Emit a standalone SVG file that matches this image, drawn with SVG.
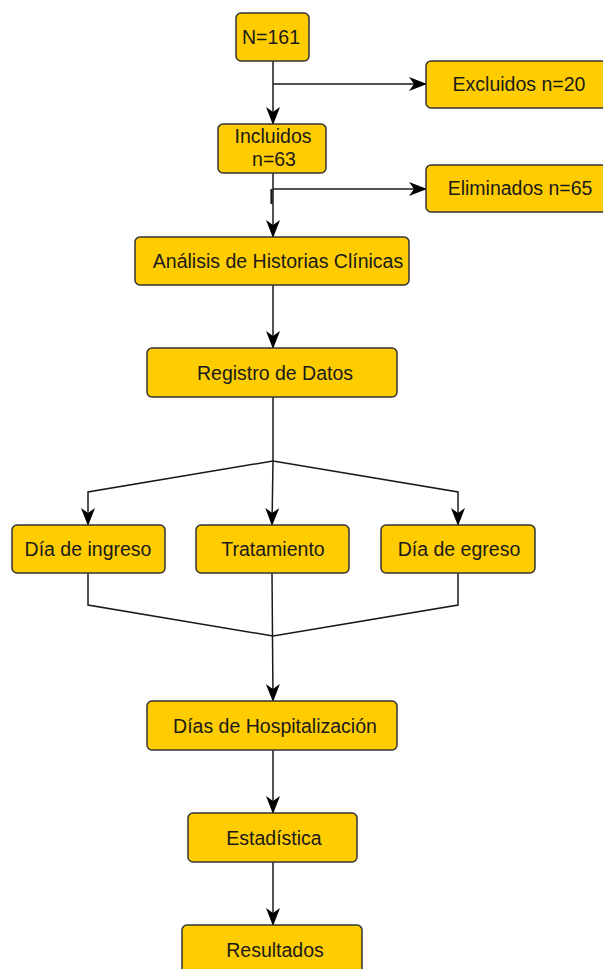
<svg xmlns="http://www.w3.org/2000/svg" width="603" height="969" viewBox="0 0 603 969">
<style>
.box{fill:#ffcc00;stroke:#333333;stroke-width:1.5}
.t{font-family:"Liberation Sans",Arial,sans-serif;font-size:19.5px;fill:#1a1a1a;text-anchor:middle}
.c{fill:none;stroke:#1a1a1a;stroke-width:1.5}
</style>
<defs>
<marker id="arr" viewBox="0 0 18 14" refX="17" refY="7" markerWidth="18" markerHeight="14" markerUnits="userSpaceOnUse" orient="auto">
<path d="M0,0 L18,7 L0,14 L5,7 Z" fill="#000"/>
</marker>
</defs>
<rect width="603" height="969" fill="#ffffff"/>
<g id="connectors">
<path class="c" d="M273,61 V124" marker-end="url(#arr)"/>
<path class="c" d="M273,84 H426" marker-end="url(#arr)"/>
<path class="c" d="M273,173 V237" marker-end="url(#arr)"/>
<path class="c" d="M273,189 H426" marker-end="url(#arr)"/>
<path d="M271.5,189 V204" stroke="#1a1a1a" stroke-width="2.2" fill="none"/>
<path class="c" d="M273,285 V348" marker-end="url(#arr)"/>
<path class="c" d="M273,397 V461"/>
<path class="c" d="M273,461 L88,492 V525" marker-end="url(#arr)"/>
<path class="c" d="M273,461 L458,492 V525" marker-end="url(#arr)"/>
<path class="c" d="M273,461 L272,525" marker-end="url(#arr)"/>
<path class="c" d="M88,573 V605 L273,636"/>
<path class="c" d="M458,573 V605 L273,636"/>
<path class="c" d="M272,573 L273,701" marker-end="url(#arr)"/>
<path class="c" d="M273,750 V813" marker-end="url(#arr)"/>
<path class="c" d="M273,862 V925" marker-end="url(#arr)"/>
</g>
<g id="n161">
<rect class="box" x="236" y="13" width="73" height="48" rx="5"/>
<text class="t" x="271" y="44">N=161</text>
</g>
<g id="excluidos">
<rect class="box" x="426" y="61" width="185" height="47" rx="5"/>
<text class="t" x="519" y="91">Excluidos n=20</text>
</g>
<g id="incluidos">
<rect class="box" x="218" y="124" width="108" height="49" rx="5"/>
<text class="t" x="273" y="143">Incluidos</text>
<text class="t" x="274" y="166">n=63</text>
</g>
<g id="eliminados">
<rect class="box" x="426" y="165" width="185" height="47" rx="5"/>
<text class="t" x="520" y="195">Eliminados n=65</text>
</g>
<g id="analisis">
<rect class="box" x="135" y="237" width="274" height="48" rx="5"/>
<text class="t" x="278" y="268">Análisis de Historias Clínicas</text>
</g>
<g id="registro">
<rect class="box" x="147" y="348" width="250" height="49" rx="5"/>
<text class="t" x="275" y="380">Registro de Datos</text>
</g>
<g id="ingreso">
<rect class="box" x="12" y="525" width="153" height="48" rx="5"/>
<text class="t" x="88" y="556">Día de ingreso</text>
</g>
<g id="tratamiento">
<rect class="box" x="196" y="525" width="153" height="48" rx="5"/>
<text class="t" x="273" y="556">Tratamiento</text>
</g>
<g id="egreso">
<rect class="box" x="381" y="525" width="154" height="48" rx="5"/>
<text class="t" x="459" y="556">Día de egreso</text>
</g>
<g id="hospitalizacion">
<rect class="box" x="147" y="701" width="250" height="49" rx="5"/>
<text class="t" x="275" y="733">Días de Hospitalización</text>
</g>
<g id="estadistica">
<rect class="box" x="188" y="813" width="169" height="49" rx="5"/>
<text class="t" x="274" y="845">Estadística</text>
</g>
<g id="resultados">
<rect class="box" x="182" y="925" width="180" height="49" rx="5"/>
<text class="t" x="275" y="957">Resultados</text>
</g>
</svg>
